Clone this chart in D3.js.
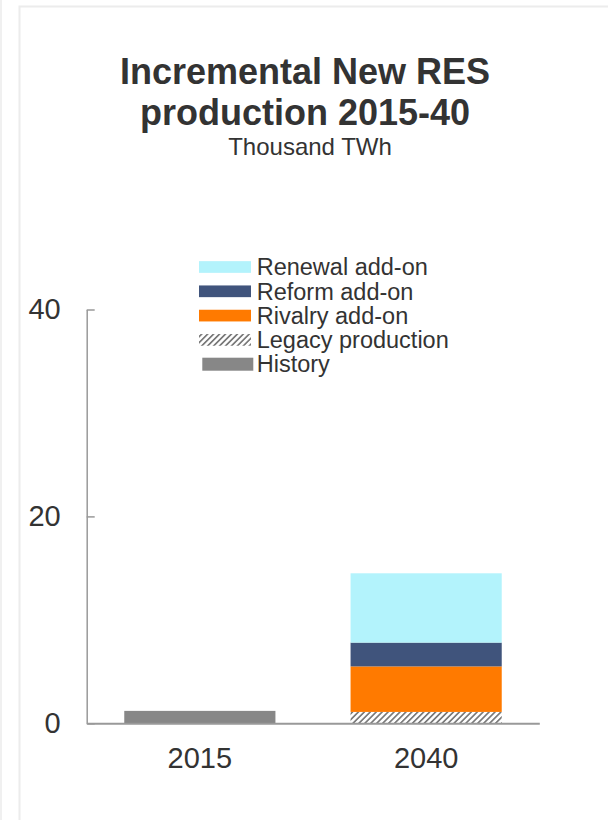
<!DOCTYPE html>
<html>
<head>
<meta charset="utf-8">
<script src="https://cdn.jsdelivr.net/npm/d3@7"></script>
<style>
  html, body { margin: 0; padding: 0; background: #fff; }
  svg { display: block; font-family: "Liberation Sans", Arial, sans-serif; }
</style>
</head>
<body>
<svg id="chart" width="608" height="820"></svg>
<script>
// ---- data ----
const categories = ["2015", "2040"];
const seriesNames = ["History", "Legacy production", "Rivalry add-on", "Reform add-on", "Renewal add-on"];
const history  = [1.2, 0];
const legacy   = [0, 1.1];
const rivalry  = [0, 4.4];
const reform   = [0, 2.3];
const renewal  = [0, 6.7];
const yTicks   = [0, 20, 40];
const legendOrder = ["Renewal add-on", "Reform add-on", "Rivalry add-on", "Legacy production", "History"];

const seriesValues = {
  "History": history,
  "Legacy production": legacy,
  "Rivalry add-on": rivalry,
  "Reform add-on": reform,
  "Renewal add-on": renewal
};
const colors = {
  "History": "#878787",
  "Legacy production": "url(#hatch)",
  "Rivalry add-on": "#ff7a00",
  "Reform add-on": "#40547c",
  "Renewal add-on": "#b3f3fc"
};

const table = categories.map((c, i) => {
  const row = { cat: c };
  seriesNames.forEach(s => row[s] = seriesValues[s][i]);
  return row;
});

const svg = d3.select("#chart");

// hatch pattern
const defs = svg.append("defs");
const pat = defs.append("pattern")
  .attr("id", "hatch")
  .attr("patternUnits", "userSpaceOnUse")
  .attr("width", 4.2).attr("height", 4.2)
  .attr("patternTransform", "rotate(45)");
pat.append("rect").attr("width", 4.2).attr("height", 4.2).attr("fill", "#fff");
pat.append("rect").attr("x", 0).attr("y", 0).attr("width", 1.7).attr("height", 4.2).attr("fill", "#7a7a7a");

// card frame
svg.append("line").attr("x1", 1).attr("x2", 1).attr("y1", 0).attr("y2", 820)
  .attr("stroke", "#f0f0f0").attr("stroke-width", 2);
svg.append("path").attr("d", "M19.5,820V6.5H608")
  .attr("fill", "none").attr("stroke", "#ececec").attr("stroke-width", 2);

// title
svg.append("text").attr("x", 305).attr("y", 84).attr("text-anchor", "middle")
  .attr("font-size", 36).attr("font-weight", "bold").attr("fill", "#333")
  .text("Incremental New RES");
svg.append("text").attr("x", 305).attr("y", 125).attr("text-anchor", "middle")
  .attr("font-size", 36).attr("font-weight", "bold").attr("fill", "#333")
  .text("production 2015-40");
svg.append("text").attr("x", 310).attr("y", 155).attr("text-anchor", "middle")
  .attr("font-size", 24).attr("fill", "#333")
  .text("Thousand TWh");

// scales
const x = d3.scaleBand().domain(categories).range([86.7, 539.3])
  .paddingInner(0.332).paddingOuter(0.166);
const y = d3.scaleLinear().domain([0, 40]).range([723.3, 309.5]);

// bars
const stack = d3.stack().keys(seriesNames)(table);
svg.append("g").selectAll("g").data(stack).join("g")
  .attr("fill", d => colors[d.key])
  .selectAll("rect").data(d => d).join("rect")
  .attr("x", d => x(d.data.cat))
  .attr("width", x.bandwidth())
  .attr("y", d => y(d[1]))
  .attr("height", d => y(d[0]) - y(d[1]));

// axes
const yAxis = d3.axisLeft(y).tickValues(yTicks).tickSizeInner(-8).tickSizeOuter(0).tickPadding(26);
const gy = svg.append("g").attr("transform", "translate(86.7,0)").call(yAxis);
gy.selectAll("path, line").attr("stroke", "#999").attr("stroke-width", 1.5);
gy.selectAll("text").attr("font-size", 29).attr("fill", "#333")
  .attr("font-family", "Liberation Sans, Arial, sans-serif");

const xAxis = d3.axisBottom(x).tickSize(0).tickPadding(24);
const gx = svg.append("g").attr("transform", "translate(0,723.3)").call(xAxis);
gx.select("path").attr("stroke", "#999").attr("stroke-width", 2);
gx.selectAll("text").attr("font-size", 29).attr("fill", "#333")
  .attr("font-family", "Liberation Sans, Arial, sans-serif");

// legend
const lg = svg.append("g");
legendOrder.forEach((s, i) => {
  const cy = 267 + i * 24.3;
  const isHist = s === "History";
  lg.append("rect")
    .attr("x", isHist ? 202.3 : 199)
    .attr("y", isHist ? cy - 6.5 : cy - 5.85)
    .attr("width", isHist ? 51 : 52)
    .attr("height", isHist ? 13 : 11.7)
    .attr("fill", colors[s]);
  lg.append("text").attr("x", 256.7).attr("y", cy + 8.2)
    .attr("font-size", 23.5).attr("fill", "#333").text(s);
});
</script>
</body>
</html>
